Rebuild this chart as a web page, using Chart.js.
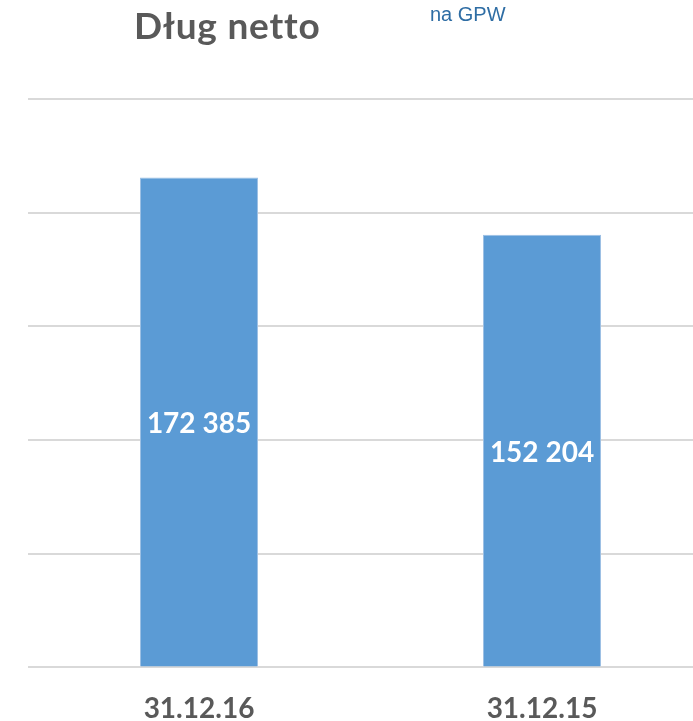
<!DOCTYPE html>
<html>
<head>
<meta charset="utf-8">
<script src="https://cdn.jsdelivr.net/npm/chart.js@4"></script>
<style>
  html, body { margin: 0; padding: 0; background: #fff; overflow: hidden; }
  #wrap { position: relative; width: 693px; height: 721px; overflow: hidden; }
  #chartBox { position: absolute; left: 0; top: 0; width: 721px; height: 760px; }
  #title { position: absolute; left: 134px; top: 2px; font: bold 37px Lato, sans-serif; color: #595959; letter-spacing: 0.8px; }
  #note { position: absolute; left: 430px; top: 3px; font: 20px "Liberation Sans", Arial, sans-serif; color: #2e6da4; }
</style>
</head>
<body>
<div id="wrap">
  <div id="chartBox"><canvas id="chart" width="721" height="760"></canvas></div>
  <div id="title">Dług netto</div>
  <div id="note">na GPW</div>
</div>
<script>
const categories = ["31.12.16", "31.12.15"];
const netDebt = [172385, 152204];
const valueLabels = ["172 385", "152 204"];

const barLabels = {
  id: "barLabels",
  afterDatasetsDraw(chart) {
    const ctx = chart.ctx;
    const meta = chart.getDatasetMeta(0);
    ctx.save();
    ctx.fillStyle = "#ffffff";
    ctx.font = "bold 28px Lato, sans-serif";
    ctx.textAlign = "center";
    ctx.textBaseline = "middle";
    meta.data.forEach((bar, i) => {
      const y = (bar.y + bar.base) / 2 + 2;
      ctx.fillText(valueLabels[i], bar.x, y);
    });
    ctx.restore();
  }
};

new Chart(document.getElementById("chart"), {
  type: "bar",
  data: {
    labels: categories,
    datasets: [{
      data: netDebt,
      backgroundColor: "#5b9bd5",
      borderColor: "#9dc0e4",
      borderWidth: 1,
      categoryPercentage: 1,
      barPercentage: 0.344
    }]
  },
  options: {
    responsive: false,
    animation: false,
    devicePixelRatio: 1,
    layout: { padding: { left: 27.5, top: 99, right: 7.5, bottom: 17 } },
    plugins: { legend: { display: false }, tooltip: { enabled: false } },
    scales: {
      x: {
        grid: { display: false },
        border: { display: false },
        ticks: {
          color: "#595959",
          font: { family: "Lato, sans-serif", size: 28, weight: "bold", lineHeight: 1.2 },
          padding: 17
        }
      },
      y: {
        min: 0,
        max: 200000,
        ticks: { display: false, stepSize: 40000 },
        grid: { color: "#d9d9d9", lineWidth: 2, drawTicks: false },
        border: { display: false }
      }
    }
  },
  plugins: [barLabels]
});
</script>
</body>
</html>
